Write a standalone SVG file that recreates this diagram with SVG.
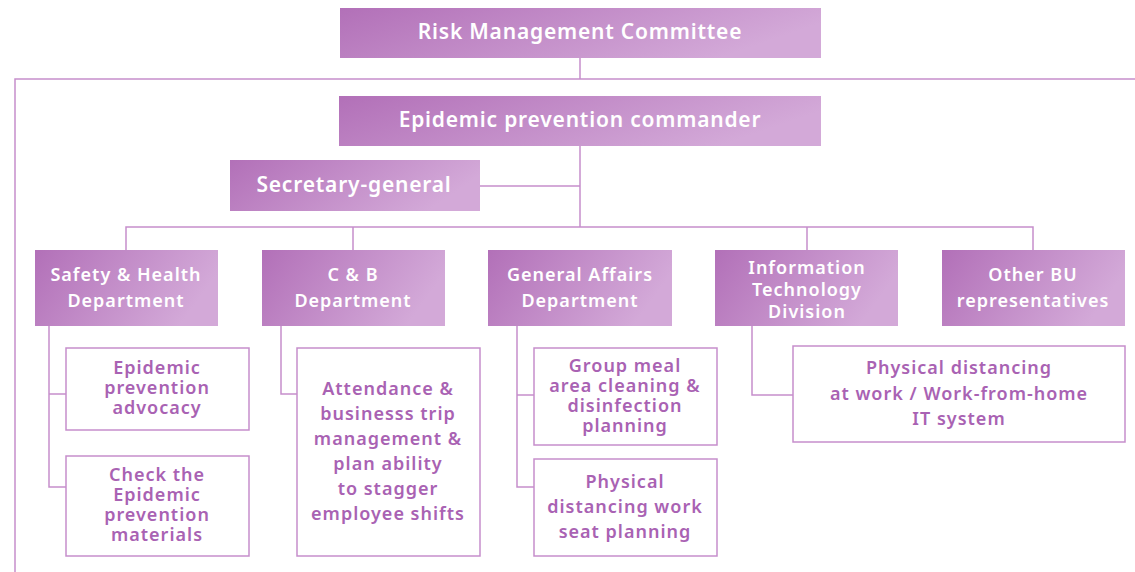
<svg xmlns="http://www.w3.org/2000/svg" width="1135" height="572" viewBox="0 0 1135 572">
<defs>
<linearGradient id="g" x1="0" y1="0" x2="1" y2="0.3">
<stop offset="0" stop-color="#b270b8"/>
<stop offset="1" stop-color="#d3a9d8"/>
</linearGradient>
<style>
.hb{fill:url(#g);}
.ht{fill:#fff;font-family:"Noto Sans","Open Sans",sans-serif;font-weight:600;text-anchor:middle;}
.t1{font-size:21px;letter-spacing:0.8px;}
.t2{font-size:18px;letter-spacing:1px;}
.sb{fill:#fff;stroke:#c68ecc;stroke-width:1.5;}
.st{fill:#a962b3;font-family:"Noto Sans","Open Sans",sans-serif;font-weight:600;font-size:18px;letter-spacing:1px;text-anchor:middle;}
.ln{fill:none;stroke:#c68ecc;stroke-width:1.5;}
</style>
</defs>
<g id="connectors">
<path class="ln" d="M580 58V79M15 572V79H1135"/>
<path class="ln" d="M580 146V227M480 186H580M126 250V227H1033V250M353 227V250M807 227V250"/>
<path class="ln" d="M49 326V487H66M49 394H66"/>
<path class="ln" d="M281 326V394H297"/>
<path class="ln" d="M517 326V487H534M517 395H534"/>
<path class="ln" d="M752 326V395H793"/>
</g>
<g id="n-risk"><rect class="hb" x="340" y="8" width="481" height="50"/><text class="ht t1" x="580" y="39">Risk Management Committee</text></g>
<g id="n-commander"><rect class="hb" x="339" y="96" width="482" height="50"/><text class="ht t1" x="580" y="127">Epidemic prevention commander</text></g>
<g id="n-secretary"><rect class="hb" x="230" y="160" width="250" height="51"/><text class="ht t1" x="354" y="192">Secretary-general</text></g>
<g id="n-safety"><rect class="hb" x="35" y="250" width="183" height="76"/><text class="ht t2" x="126" y="281">Safety &amp; Health</text><text class="ht t2" x="126" y="307">Department</text></g>
<g id="n-cb"><rect class="hb" x="262" y="250" width="183" height="76"/><text class="ht t2" x="353" y="281">C &amp; B</text><text class="ht t2" x="353" y="307">Department</text></g>
<g id="n-ga"><rect class="hb" x="488" y="250" width="184" height="76"/><text class="ht t2" x="580" y="281">General Affairs</text><text class="ht t2" x="580" y="307">Department</text></g>
<g id="n-it"><rect class="hb" x="715" y="250" width="183" height="76"/><text class="ht t2" x="807" y="274">Information</text><text class="ht t2" x="807" y="296">Technology</text><text class="ht t2" x="807" y="318">Division</text></g>
<g id="n-other"><rect class="hb" x="942" y="250" width="183" height="76"/><text class="ht t2" x="1033" y="281">Other BU</text><text class="ht t2" x="1033" y="307">representatives</text></g>
<g id="n-advocacy"><rect class="sb" x="66" y="348" width="183" height="82"/><text class="st" x="157" y="374">Epidemic</text><text class="st" x="157" y="394">prevention</text><text class="st" x="157" y="414">advocacy</text></g>
<g id="n-check"><rect class="sb" x="66" y="456" width="183" height="100"/><text class="st" x="157" y="481">Check the</text><text class="st" x="157" y="501">Epidemic</text><text class="st" x="157" y="521">prevention</text><text class="st" x="157" y="541">materials</text></g>
<g id="n-attendance"><rect class="sb" x="297" y="348" width="183" height="208"/><text class="st" x="388" y="395">Attendance &amp;</text><text class="st" x="388" y="420">businesss trip</text><text class="st" x="388" y="445">management &amp;</text><text class="st" x="388" y="470">plan ability</text><text class="st" x="388" y="495">to stagger</text><text class="st" x="388" y="520">employee shifts</text></g>
<g id="n-meal"><rect class="sb" x="534" y="348" width="183" height="97"/><text class="st" x="625" y="372">Group meal</text><text class="st" x="625" y="392">area cleaning &amp;</text><text class="st" x="625" y="412">disinfection</text><text class="st" x="625" y="432">planning</text></g>
<g id="n-seat"><rect class="sb" x="534" y="459" width="183" height="97"/><text class="st" x="625" y="488">Physical</text><text class="st" x="625" y="513">distancing work</text><text class="st" x="625" y="538">seat planning</text></g>
<g id="n-itsys"><rect class="sb" x="793" y="346" width="332" height="96"/><text class="st" x="959" y="374">Physical distancing</text><text class="st" x="959" y="400">at work / Work-from-home</text><text class="st" x="959" y="425">IT system</text></g>
</svg>
